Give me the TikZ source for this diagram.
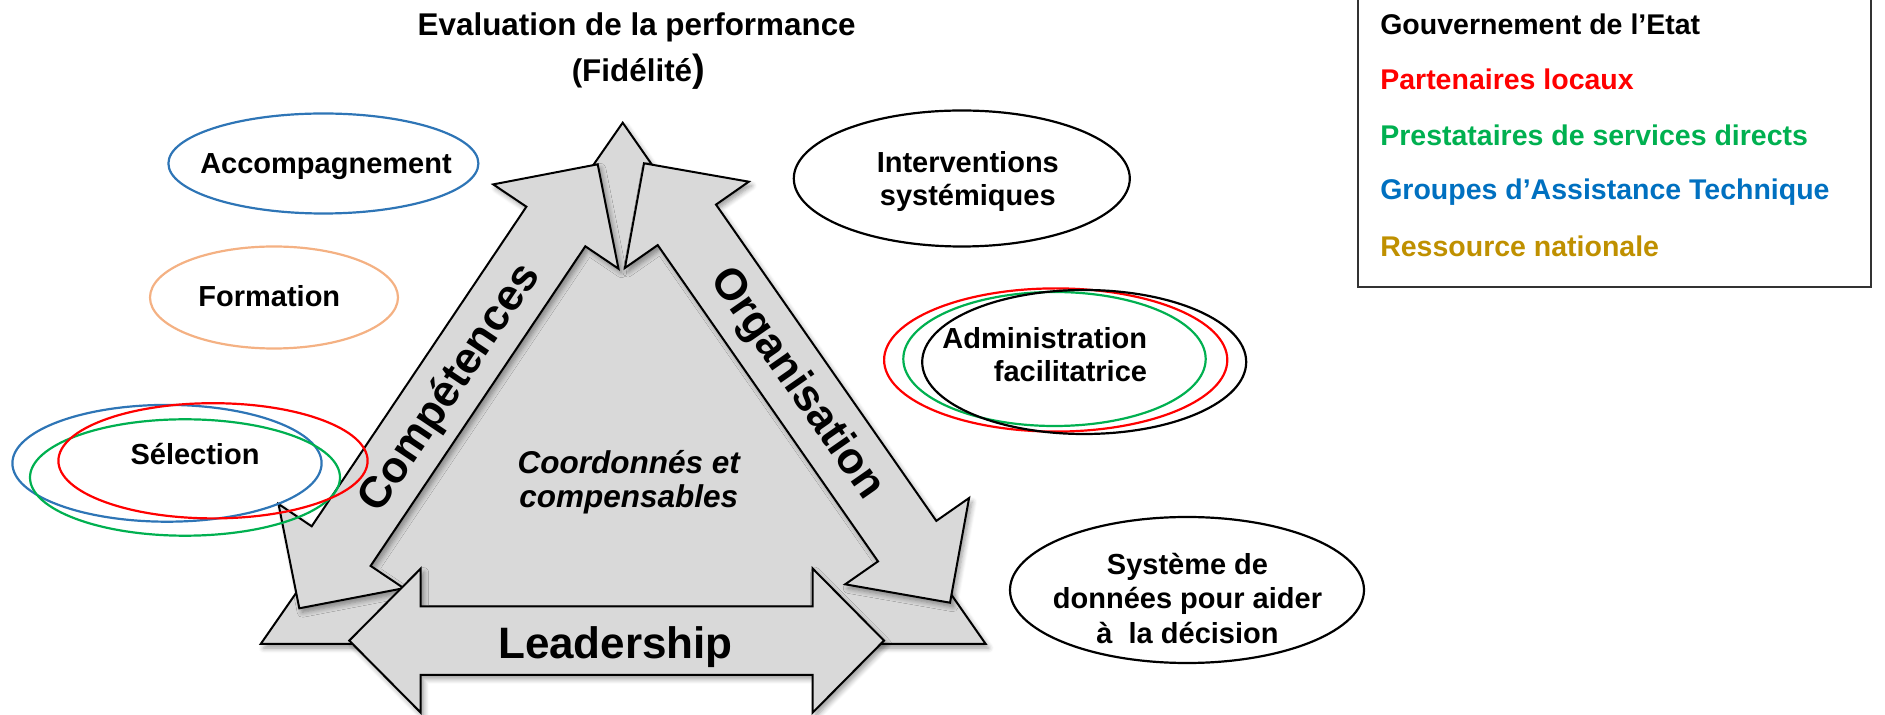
\documentclass[tikz,border=0pt]{standalone}
\usepackage{fontspec}
\setmainfont{Liberation Sans}
\usetikzlibrary{shadows.blur}

\definecolor{shapegray}{RGB}{217,217,217}
\definecolor{ringblue}{RGB}{46,117,182}
\definecolor{ringorange}{RGB}{244,177,131}
\definecolor{ringred}{RGB}{255,0,0}
\definecolor{ringgreen}{RGB}{0,176,80}
\definecolor{keyblue}{RGB}{0,112,192}
\definecolor{keygold}{RGB}{191,144,0}

\tikzset{every picture/.style={line width=1pt}}
\tikzset{
  arrowshape/.style={draw=black, fill=shapegray, line join=miter,
    blur shadow={shadow xshift=1.5pt, shadow yshift=-2pt, shadow blur radius=2.5pt, shadow blur steps=6, shadow opacity=40}},
  ring/.style={line width=1.1pt},
  ringtext/.style={inner sep=0pt, font=\fontsize{14.5}{17}\selectfont\bfseries},
  keytext/.style={inner sep=0pt, anchor=base west, font=\fontsize{14.25}{17}\selectfont\bfseries},
  bigtext/.style={inner sep=0pt, font=\fontsize{22}{26}\selectfont\bfseries},
  headtext/.style={inner sep=0pt, anchor=base, font=\fontsize{15.7}{19}\selectfont\bfseries},
  midtext/.style={inner sep=0pt, anchor=base, font=\fontsize{15.75}{18}\selectfont\bfseries\itshape}
}

\begin{document}
\begin{tikzpicture}[x=0.5pt,y=0.5pt,yscale=-1,xscale=1]
\useasboundingbox (0,0) rectangle (1885,715);

%Shape: Triangle
\draw [arrowshape] (260.7,644) -- (622.7,122.7) -- (985.7,644) -- cycle ;
%Shape: Double Arrow (left side)
\draw [arrowshape] (299.3,608.3) -- (278.5,504) -- (311.7,526.3) -- (526.4,206.7) -- (493.2,184.4) -- (597.7,164.3) -- (618.5,268.7) -- (585.3,246.3) -- (370.6,565.9) -- (403.8,588.2) -- cycle ;
%Shape: Double Arrow (right side)
\draw [arrowshape] (644,163.3) -- (748.8,181.7) -- (716,204.6) -- (936.3,520.9) -- (969.1,498) -- (950,602.7) -- (845.2,584.3) -- (878,561.4) -- (657.7,245.1) -- (624.9,268) -- cycle ;
%Shape: Double Arrow (base)
\draw [arrowshape] (349.3,640.6) -- (420.7,568.6) -- (420.7,606.4) -- (812.7,606.4) -- (812.7,568.6) -- (884,640.6) -- (812.7,712.6) -- (812.7,674.8) -- (420.7,674.8) -- (420.7,712.6) -- cycle ;

%Shape: Ellipse
\draw [ring, ringblue] (323.4,163.5) ellipse [x radius=77.5pt, y radius=25pt] ;
%Shape: Ellipse
\draw [ring, ringorange] (274,297.5) ellipse [x radius=62pt, y radius=25.5pt] ;
%Shape: Ellipse
\draw [ring, ringblue] (167,463.3) ellipse [x radius=77.3pt, y radius=29.2pt] ;
%Shape: Ellipse
\draw [ring, ringgreen] (185,477.5) ellipse [x radius=77.5pt, y radius=29.1pt] ;
%Shape: Ellipse
\draw [ring, ringred] (213,460.8) ellipse [x radius=77.3pt, y radius=28.8pt] ;
%Shape: Ellipse
\draw [ring] (961.8,178.5) ellipse [x radius=84pt, y radius=34pt] ;
%Shape: Ellipse
\draw [ring, ringred] (1055.7,360) ellipse [x radius=85.8pt, y radius=35.8pt] ;
%Shape: Ellipse
\draw [ring, ringgreen] (1054.5,359) ellipse [x radius=75.6pt, y radius=33.5pt] ;
%Shape: Ellipse
\draw [ring] (1084.2,362) ellipse [x radius=81pt, y radius=36pt] ;
%Shape: Ellipse
\draw [ring] (1187,590) ellipse [x radius=88.5pt, y radius=36.5pt] ;

%Legend frame
\draw [line width=1.1pt, black!80] (1358.3,-5) |- (1870.7,286.7) -- (1870.7,-5) ;

% Text Node
\node [headtext] (evaltitle) at (636.7,36) {Evaluation de la performance};
% Text Node
\node [headtext] (fidelite) at (638.3,81.7) {(Fidélité{\fontsize{19}{19}\selectfont)}};
% Text Node
\node [ringtext, anchor=base] (accomp) at (326,174) {Accompagnement};
% Text Node
\node [ringtext, anchor=base] (formation) at (269.3,307) {Formation};
% Text Node
\node [ringtext, anchor=base] (selection) at (195,465) {Sélection};
% Text Node
\node [ringtext, anchor=base] (interv) at (967.8,172.7) {Interventions};
\node [ringtext, anchor=base] (systemiq) at (967.8,206) {systémiques};
% Text Node
\node [ringtext, anchor=base east] (admin) at (1148,348.7) {Administration};
\node [ringtext, anchor=base east] (facilit) at (1148,382) {facilitatrice};
% Text Node
\node [ringtext, anchor=base] (systeme) at (1187.5,575) {Système de};
\node [ringtext, anchor=base] (donnees) at (1187.5,608.3) {données pour aider};
\node [ringtext, anchor=base] (decision) at (1187.5,643.3) {à\ \ la décision};
% Text Node
\node [midtext] (coord) at (628.7,473.3) {Coordonnés et};
\node [midtext] (compens) at (628.7,507.3) {compensables};
% Text Node
\node [bigtext, rotate=56.1] (competences) at (450.8,388.3) {Compétences};
% Text Node
\node [bigtext, rotate=-55.1] (organisation) at (796,384) {Organisation};
% Text Node
\node [bigtext, anchor=base] (leadership) at (615.5,658.3) {Leadership};

% Legend
\node [keytext] (etat) at (1379.3,34.5) {Gouvernement de l’Etat};
\node [keytext, text=ringred] (partenaires) at (1379.3,90) {Partenaires locaux};
\node [keytext, text=ringgreen] (prestataires) at (1379.3,145.5) {Prestataires de services directs};
\node [keytext, text=keyblue] (groupes) at (1379.3,200) {Groupes d’Assistance Technique};
\node [keytext, text=keygold] (ressource) at (1379.3,256.7) {Ressource nationale};

\end{tikzpicture}
\end{document}
